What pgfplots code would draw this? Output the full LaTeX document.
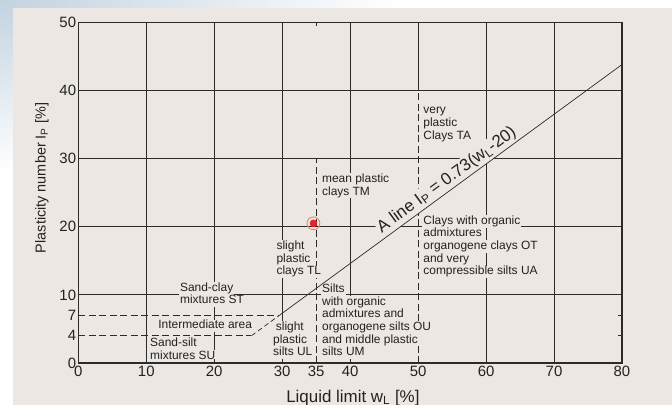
\documentclass[border=0pt]{standalone}
\usepackage{fontspec}
\setmainfont{Liberation Sans}
\usepackage{pgfplots}
\pgfplotsset{compat=1.18}
\definecolor{panel}{HTML}{ECE7E3}
\definecolor{gridc}{HTML}{2B2B2B}
\definecolor{txt}{HTML}{222222}
\definecolor{sky}{HTML}{C3D3E0}
\definecolor{ptred}{HTML}{E82228}
\definecolor{ring}{HTML}{F2826E}
\tikzset{
  grl/.style={gridc, line width=1bp},
  dsh/.style={gridc, line width=0.9bp, dash pattern=on 7bp off 3.5bp},
  lbl/.style={font=\fontsize{12}{12.7}\selectfont, text=txt, anchor=base west, fill=panel, inner xsep=1bp, inner ysep=0.73bp, text height=8.6bp, text depth=2.6bp},
}
\begin{document}
\begin{tikzpicture}
\fill[white] (-78.3bp,-42bp) rectangle (593.7bp,363bp);
\shade[left color=sky, right color=white] (-78.3bp,355bp) rectangle (320bp,363bp);
\shade[top color=sky, bottom color=white] (-78.3bp,190bp) rectangle (-65.3bp,363bp);
\fill[panel] (-65.3bp,-42bp) rectangle (593.7bp,355bp);
\begin{axis}[
  at={(0,0)}, anchor=south west, scale only axis,
  width=543.7bp, height=340.7bp,
  xmin=0, xmax=80, ymin=0, ymax=50,
  xtick={0,10,20,30,35,40,50,60,70,80},
  ytick={0,4,7,10,20,30,40,50},
  tick align=inside, major tick length=4bp,
  axis line style={gridc, line width=1.1bp},
  tick style={gridc, line width=0.9bp},
  ticklabel style={font=\fontsize{15}{18}\selectfont, text=txt},
  yticklabel style={inner xsep=2bp},
  /pgf/number format/assume math mode=true,
  xlabel={Liquid limit w\textsubscript{L} [\%]},
  ylabel={Plasticity number I\textsubscript{P} [\%]},
  xlabel style={font=\fontsize{17}{20}\selectfont, text=txt, at={(axis description cs:0.505,-0.1145)}, anchor=base},
  ylabel style={font=\fontsize{14.5}{17}\selectfont, text=txt, at={(axis description cs:-0.0668,0.543)}, anchor=center},
  clip=false, axis on top,
]
% grid
\draw[grl] (axis cs:10,0) -- (axis cs:10,50);
\draw[grl] (axis cs:20,0) -- (axis cs:20,50);
\draw[grl] (axis cs:30,0) -- (axis cs:30,50);
\draw[grl] (axis cs:40,0) -- (axis cs:40,50);
\draw[grl] (axis cs:50,40) -- (axis cs:50,50);
\draw[grl] (axis cs:60,0) -- (axis cs:60,50);
\draw[grl] (axis cs:70,0) -- (axis cs:70,50);
\draw[grl] (axis cs:0,10) -- (axis cs:80,10);
\draw[grl] (axis cs:0,20) -- (axis cs:80,20);
\draw[grl] (axis cs:0,30) -- (axis cs:80,30);
\draw[grl] (axis cs:0,40) -- (axis cs:80,40);
% dashed boundaries
\addplot[dsh] coordinates {(35,0) (35,30)};
\addplot[dsh] coordinates {(50,0) (50,40)};
\addplot[dsh] coordinates {(0,7) (29.59,7)};
\addplot[dsh] coordinates {(0,4) (25.48,4)};
% labels
\node[lbl] at (axis cs:50.6,36.57) {very};
\node[lbl] at (axis cs:50.6,34.71) {plastic};
\node[lbl] at (axis cs:50.6,32.85) {Clays TA};
\node[lbl] at (axis cs:35.7,26.50) {mean plastic};
\node[lbl] at (axis cs:35.7,24.64) {clays TM};
\node[lbl] at (axis cs:29.0,16.64) {slight};
\node[lbl] at (axis cs:29.0,14.78) {plastic};
\node[lbl] at (axis cs:29.0,12.92) {clays TL};
\node[lbl] at (axis cs:14.8,10.52) {Sand-clay};
\node[lbl] at (axis cs:14.8,8.66) {mixtures ST};
\node[lbl] at (axis cs:11.6,4.99) {Intermediate area};
\node[lbl] at (axis cs:10.4,2.40) {Sand-silt};
\node[lbl] at (axis cs:10.4,0.54) {mixtures SU};
\node[lbl] at (axis cs:28.9,4.75) {slight};
\node[lbl] at (axis cs:28.5,2.89) {plastic};
\node[lbl] at (axis cs:28.5,1.03) {silts UL};
\node[lbl] at (axis cs:35.7,10.37) {Silts};
\node[lbl] at (axis cs:35.7,8.51) {with organic};
\node[lbl] at (axis cs:35.7,6.65) {admixtures and};
\node[lbl] at (axis cs:35.7,4.79) {organogene silts OU};
\node[lbl] at (axis cs:35.7,2.93) {and middle plastic};
\node[lbl] at (axis cs:35.7,1.07) {silts UM};
\node[lbl] at (axis cs:50.6,20.36) {Clays with organic};
\node[lbl] at (axis cs:50.6,18.50) {admixtures};
\node[lbl] at (axis cs:50.6,16.64) {organogene clays OT};
\node[lbl] at (axis cs:50.6,14.78) {and very};
\node[lbl] at (axis cs:50.6,12.92) {compressible silts UA};
\node[rotate=36.13, anchor=south, fill=panel, text=txt, inner xsep=1bp, inner ysep=2bp, font=\fontsize{17}{20}\selectfont] at (axis cs:55.1,25.62) {A line I\textsubscript{P} = 0.73(w\textsubscript{L}-20)};
% A line
\addplot[gridc, line width=0.7bp, dash pattern=on 5bp off 3bp] coordinates {(25.48,4) (29.59,7)};
\addplot[gridc, line width=0.7bp] coordinates {(29.59,7) (80,43.8)};
% point
\addplot[only marks, mark=*, mark size=3.5bp, color=ptred] coordinates {(34.6,20.5)};
\addplot[only marks, mark=o, mark size=6.4bp, color=ring, mark options={line width=0.9bp}] coordinates {(34.6,20.5)};
\end{axis}
\pgfresetboundingbox
\path (-78.3bp,-42bp) rectangle (593.7bp,363bp);
\end{tikzpicture}
\end{document}
